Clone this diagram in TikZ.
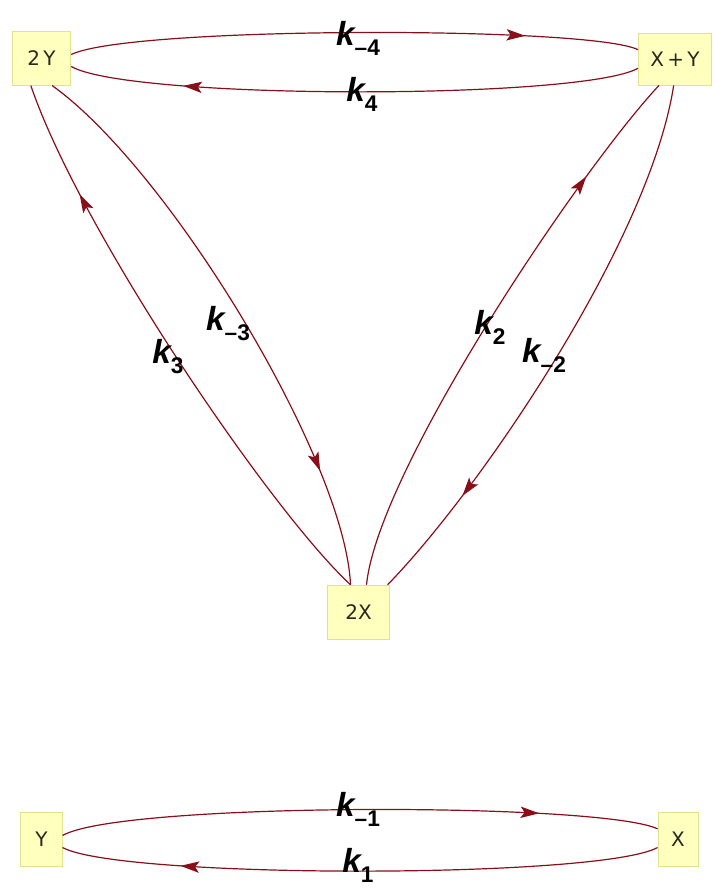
\documentclass[tikz,border=0pt]{standalone}
\usepackage{fontspec}
\setmainfont{Liberation Sans}
\newfontfamily\boxfont{DejaVu Sans}
\usetikzlibrary{arrows.meta,decorations.markings}
\definecolor{edgered}{RGB}{135,15,25}
\definecolor{boxfill}{RGB}{255,255,190}
\definecolor{boxdraw}{RGB}{225,225,150}
\definecolor{boxtext}{RGB}{40,40,30}
\tikzset{
  species/.style={draw=boxdraw,fill=boxfill,line width=0.6pt,inner sep=0pt,
    font=\boxfont\fontsize{15}{17}\selectfont,text=boxtext},
  reaction/.style={draw=edgered,line width=0.9pt,postaction={decorate},
    decoration={markings,mark=at position 0.8 with {\arrow{Stealth[length=14pt,width=8.5pt,inset=3pt]}}},
    color=edgered},
  rate/.style={font=\fontsize{25}{28}\selectfont\bfseries\itshape,text=black,inner sep=0pt}
}
\newcommand{\rk}[1]{k\raisebox{-0.3em}{\fontsize{17}{17}\selectfont\bfseries\upshape #1}}
\begin{document}
\begin{tikzpicture}[x=0.75pt,y=-0.75pt]
\useasboundingbox (0,0) rectangle (714,888);
% nodes
\node[species,minimum width=44pt,minimum height=40pt] (Y2) at (41.5,58.5) {2\,Y};
\node[species,minimum width=55pt,minimum height=39pt] (XY) at (675,59) {X\,+\,Y};
\node[species,minimum width=47pt,minimum height=41pt] (X2) at (358.5,612.5) {2X};
\node[species,minimum width=31pt,minimum height=41pt] (Y) at (41.5,839.5) {Y};
\node[species,minimum width=30pt,minimum height=41pt] (X) at (678,839.5) {X};
% top pair
\draw[reaction] ([yshift=3pt]Y2.east) .. controls (130,26) and (590,26) .. ([yshift=7pt]XY.west);
\draw[reaction] ([yshift=-7pt]XY.west) .. controls (580,100) and (130,100) .. ([yshift=-6pt]Y2.east);
% left pair
\draw[reaction] ([xshift=-6pt]X2.north) .. controls (270,510) and (80,230) .. ([xshift=-8pt]Y2.south);
\draw[reaction] ([xshift=8pt]Y2.south) .. controls (170,170) and (345,460) .. ([xshift=-6pt]X2.north);
% right pair
\draw[reaction] ([xshift=6pt]X2.north) .. controls (378,470) and (580,170) .. ([xshift=-12pt]XY.south);
\draw[reaction] ([xshift=-1pt]XY.south) .. controls (650,240) and (480,490) .. ([xshift=-2pt]X2.north east);
% bottom pair
\draw[reaction] ([yshift=3pt]Y.east) .. controls (120,802) and (600,802) .. ([yshift=8pt]X.west);
\draw[reaction] ([yshift=-6pt]X.west) .. controls (600,879) and (120,879) .. ([yshift=-6pt]Y.east);
% labels
\node[rate] (lm4) at (358,38) {\rk{–4}};
\node[rate] (l4) at (362,94) {\rk{4}};
\node[rate] (lm3) at (228,324) {\rk{–3}};
\node[rate] (l3) at (168,357) {\rk{3}};
\node[rate] (l2) at (490,327) {\rk{2}};
\node[rate] (lm2) at (544,355) {\rk{–2}};
\node[rate] (lm1) at (358,809) {\rk{–1}};
\node[rate] (l1) at (358,865) {\rk{1}};
\end{tikzpicture}
\end{document}
